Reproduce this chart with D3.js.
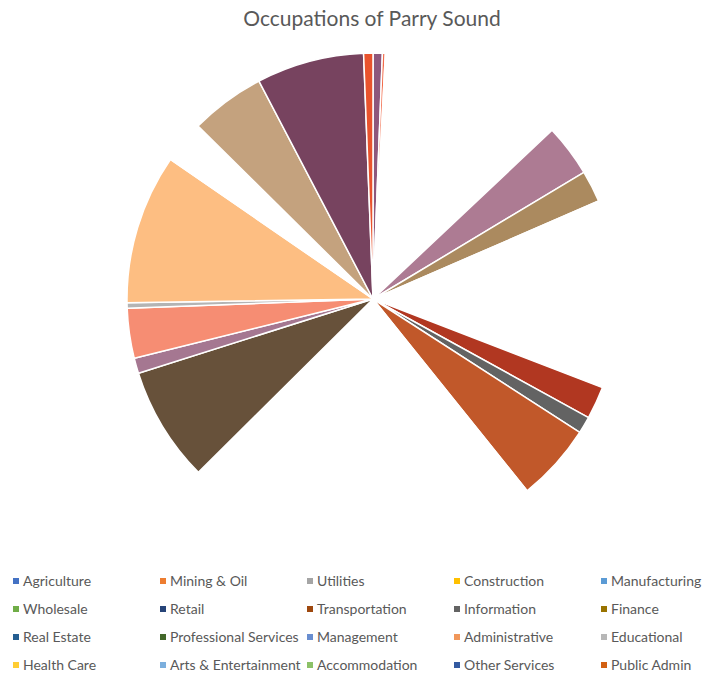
<!DOCTYPE html>
<html>
<head>
<meta charset="utf-8">
<script src="https://cdn.jsdelivr.net/npm/d3@7/dist/d3.min.js"></script>
<style>
  html, body { margin: 0; padding: 0; background: #ffffff; }
  svg { display: block; }
</style>
</head>
<body>
<svg id="chart" width="702" height="674"></svg>
<script>
// Chart title
const chartTitle = "Occupations of Parry Sound";

// Legend categories and their swatch colours
const categories = [
  "Agriculture", "Mining & Oil", "Utilities", "Construction", "Manufacturing",
  "Wholesale", "Retail", "Transportation", "Information", "Finance",
  "Real Estate", "Professional Services", "Management", "Administrative", "Educational",
  "Health Care", "Arts & Entertainment", "Accommodation", "Other Services", "Public Admin"
];
const legendColors = [
  "#4472C4", "#ED7D31", "#A5A5A5", "#FFC000", "#5B9BD5",
  "#70AD47", "#264478", "#9E480E", "#636363", "#997300",
  "#255E91", "#43682B", "#698ED0", "#F1975A", "#B7B7B7",
  "#FFCD33", "#7CAFDD", "#8CC168", "#335AA1", "#D26012"
];

// Pie segments, clockwise from 12 o'clock (percent of the whole)
const sliceShares = [
  0.61, 0.19, 12.17, 3.42, 2.08, 12.39, 2.14, 1.11, 5.11, 23.33,
  7.56, 1.00, 3.28, 0.36, 9.83, 2.81, 4.92, 7.06, 0.61
];
const sliceColors = [
  "#8E577C", "#F26B4A", "#FFFFFF", "#AD7B93", "#AB8A5F", "#FFFFFF", "#B13721", "#636363", "#C1582A", "#FFFFFF",
  "#67513A", "#A57791", "#F68D73", "#B4B4B4", "#FDBE82", "#FFFFFF", "#C4A27E", "#77435F", "#E9532D"
];

const svg = d3.select("#chart");

// Title
svg.append("text")
  .attr("x", 372)
  .attr("y", 26)
  .attr("text-anchor", "middle")
  .attr("font-family", "Lato, 'Liberation Sans', sans-serif")
  .attr("font-size", 21)
  .attr("fill", "#595959")
  .text(chartTitle);

// Pie
const cx = 373, cy = 299, radius = 246;
const pie = d3.pie().sort(null).value(d => d.v);
const arc = d3.arc().innerRadius(0).outerRadius(radius);
const pieData = pie(sliceShares.map((v, i) => ({ v, c: sliceColors[i] })));

svg.append("g")
  .attr("transform", `translate(${cx},${cy})`)
  .selectAll("path")
  .data(pieData)
  .join("path")
  .attr("d", arc)
  .attr("fill", d => d.data.c)
  .attr("stroke", "#ffffff")
  .attr("stroke-width", 1.5)
  .attr("stroke-linejoin", "round");

// Legend: 5 columns x 4 rows
const colX = d3.scaleBand().domain(d3.range(5)).range([13, 13 + 5 * 147]);
const rowY = d3.scaleBand().domain(d3.range(4)).range([567, 567 + 4 * 28]);

const legend = svg.append("g")
  .selectAll("g")
  .data(categories)
  .join("g")
  .attr("transform", (d, i) => `translate(${colX(i % 5)},${rowY(Math.floor(i / 5)) + 14})`);

legend.append("rect")
  .attr("x", 0)
  .attr("y", -3)
  .attr("width", 6)
  .attr("height", 6)
  .attr("fill", (d, i) => legendColors[i]);

legend.append("text")
  .attr("x", 10)
  .attr("y", 0)
  .attr("dy", "0.35em")
  .attr("font-family", "Lato, 'Liberation Sans', sans-serif")
  .attr("font-size", 14)
  .attr("fill", "#595959")
  .text(d => d);
</script>
</body>
</html>
